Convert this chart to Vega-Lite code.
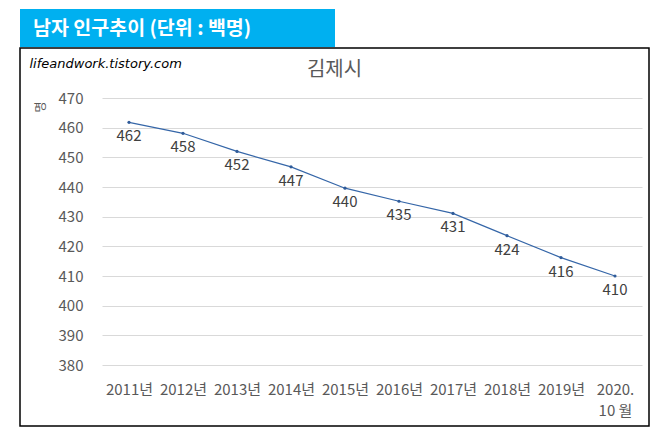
{
  "$schema": "https://vega.github.io/schema/vega-lite/v6.json",
  "padding": {"left": 19, "top": 9, "right": 11, "bottom": 9},
  "background": "white",
  "spacing": 0,
  "config": {"font": "Noto Sans CJK KR", "view": {"stroke": null}},
  "datasets": {
    "pop": [
      {"year": "2011년", "value": 461.8},
      {"year": "2012년", "value": 458.1},
      {"year": "2013년", "value": 452.0},
      {"year": "2014년", "value": 446.8},
      {"year": "2015년", "value": 439.6},
      {"year": "2016년", "value": 435.2},
      {"year": "2017년", "value": 431.1},
      {"year": "2018년", "value": 423.6},
      {"year": "2019년", "value": 416.2},
      {"year": "2020. 10 월", "value": 410.0}
    ]
  },
  "vconcat": [
    {
      "width": 315,
      "height": 38,
      "view": {"fill": "#00B0F0", "stroke": null},
      "title": {
        "text": "남자 인구추이 (단위 : 백명)",
        "anchor": "start", "frame": "group", "dx": 13, "offset": -39,
        "baseline": "middle", "color": "white", "fontSize": 19.5, "fontWeight": "bold"
      },
      "data": {"values": [{}]},
      "mark": {"type": "text", "text": ""}
    },
    {
      "width": 629,
      "height": 378,
      "view": {"stroke": "black", "strokeWidth": 1.5, "fill": "white"},
      "title": {
        "text": "김제시", "anchor": "middle", "frame": "group", "offset": -42,
        "baseline": "middle", "color": "#595959", "fontSize": 20, "fontWeight": "normal"
      },
      "data": {"name": "pop"},
      "encoding": {
        "x": {
          "field": "year", "type": "nominal", "sort": null,
          "scale": {"type": "point", "range": [82, 622], "padding": 0.5},
          "axis": {
            "orient": "bottom", "offset": -61, "grid": false, "domain": false,
            "ticks": false, "tickSize": 0, "labelPadding": 17, "labelFontSize": 15,
            "labelColor": "#595959", "labelAngle": 0, "labelLineHeight": 21,
            "labelExpr": "datum.value == '2020. 10 월' ? ['2020.', '10 월'] : datum.label",
            "title": "명", "titleAngle": -90, "titleFontSize": 12, "titleFontWeight": "normal",
            "titleColor": "#595959", "titleX": 20.5, "titleY": -258.5,
            "titleAlign": "center", "titleBaseline": "middle"
          }
        },
        "y": {
          "field": "value", "type": "quantitative",
          "scale": {"domain": [380, 470], "range": [317, 50], "nice": false, "zero": false},
          "axis": {
            "orient": "left", "offset": -82,
            "values": [380, 390, 400, 410, 420, 430, 440, 450, 460, 470],
            "grid": true, "gridColor": "#D9D9D9", "gridWidth": 1,
            "domain": false, "ticks": false, "tickSize": 0, "labelPadding": 19,
            "labelFontSize": 15, "labelColor": "#595959",
            "title": "lifeandwork.tistory.com", "titleFont": "DejaVu Sans",
            "titleFontStyle": "italic", "titleFontWeight": "normal", "titleFontSize": 13,
            "titleColor": "black", "titleAngle": 0, "titleAlign": "left",
            "titleBaseline": "middle", "titleX": -73, "titleY": 15
          }
        }
      },
      "layer": [
        {"mark": {"type": "line", "color": "#3566A8", "strokeWidth": 1.2}},
        {"mark": {"type": "point", "filled": true, "size": 10, "color": "#2F5B99", "opacity": 1}},
        {
          "mark": {"type": "text", "dy": 14, "fontSize": 15, "color": "#404040"},
          "encoding": {"text": {"field": "value", "type": "quantitative", "format": ".0f"}}
        }
      ]
    }
  ]
}
